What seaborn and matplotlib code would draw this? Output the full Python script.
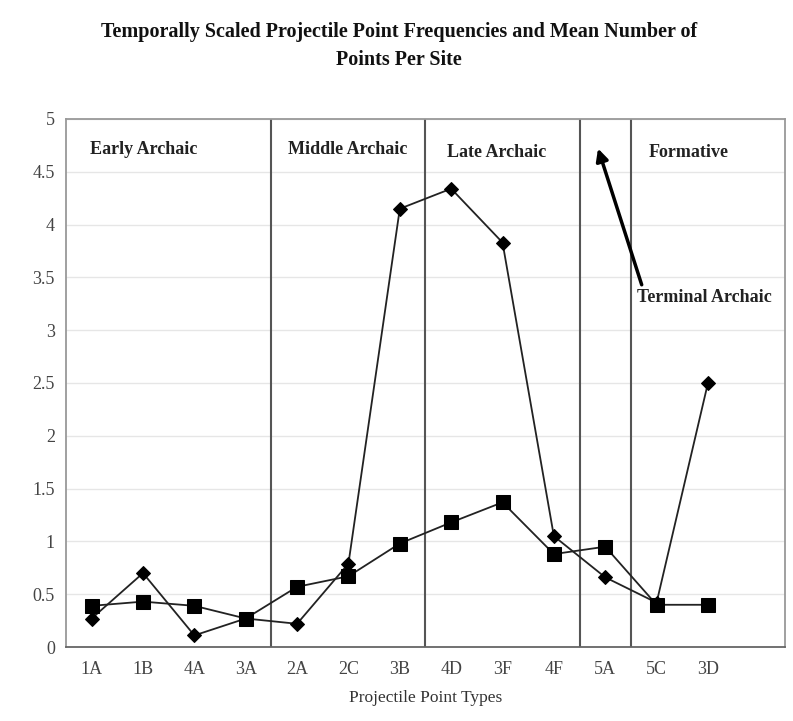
import numpy as np
import pandas as pd
import matplotlib
matplotlib.use("Agg")
import matplotlib.pyplot as plt
from matplotlib.ticker import FormatStrFormatter
import seaborn as sns

# point types along the x axis (last slot is empty in the original)
point_types = ["1A", "1B", "4A", "3A", "2A", "2C", "3B", "4D", "3F", "4F", "5A", "5C", "3D", ""]

# diamond series: scaled point frequencies
scaled_freq = [0.27, 0.70, 0.11, 0.27, 0.22, 0.79, 4.15, 4.34, 3.83, 1.05, 0.66, 0.42, 2.50]
# square series: mean number of points per site
mean_per_site = [0.39, 0.43, 0.39, 0.27, 0.57, 0.67, 0.98, 1.18, 1.37, 0.88, 0.95, 0.40, 0.40]

# period boundaries (between categories) and labels
period_bounds = [3.5, 6.5, 9.5, 10.5]
period_labels = ["Early Archaic", "Middle Archaic", "Late Archaic", "Formative"]
period_label_x = [-0.03, 3.82, 6.92, 10.85]
period_label_y = [4.71, 4.71, 4.68, 4.68]

SERIF = ["Liberation Serif", "DejaVu Serif"]

sns.set_style("white")
plt.rcParams["font.family"] = SERIF

df = pd.DataFrame({
    "pos": np.arange(len(scaled_freq)),
    "freq": scaled_freq,
    "mean": mean_per_site,
})

fig = plt.figure(figsize=(7.93, 7.21), dpi=100)
ax = fig.add_axes([0.0832, 0.1026, 0.9067, 0.7324])

ax.yaxis.grid(True, color="#e6e6e6", linewidth=1.0)
ax.set_axisbelow(True)

sns.lineplot(data=df, x="pos", y="freq", ax=ax, color="#222222", linewidth=1.3,
             marker="D", markersize=7.5, markerfacecolor="black",
             markeredgecolor="black", zorder=3)
sns.lineplot(data=df, x="pos", y="mean", ax=ax, color="#222222", linewidth=1.3,
             marker="s", markersize=10.5, markerfacecolor="black",
             markeredgecolor="black", zorder=4)

for b in period_bounds:
    ax.axvline(b, color="#555555", linewidth=1.5, zorder=2)

for lab, lx, ly in zip(period_labels, period_label_x, period_label_y):
    ax.text(lx, ly, lab, fontsize=13, fontweight="bold", color="#222222",
            ha="left", va="center")

# terminal archaic arrow and its label
ax.annotate("", xy=(9.86, 4.72), xytext=(10.71, 3.43),
            arrowprops=dict(arrowstyle="-|>", color="black", lw=2.5,
                            mutation_scale=18, shrinkA=0, shrinkB=0),
            annotation_clip=False)
ax.text(10.62, 3.31, "Terminal Archaic", fontsize=13, fontweight="bold",
        color="#222222", ha="left", va="center", clip_on=False)

ax.set_xlim(-0.5, len(point_types) - 0.5)
ax.set_ylim(0, 5)
ax.set_xticks(np.arange(len(point_types)))
ax.set_xticklabels(point_types)
ax.set_yticks(np.arange(0, 5.01, 0.5))
ax.yaxis.set_major_formatter(FormatStrFormatter("%g"))
ax.tick_params(axis="both", labelsize=13, labelcolor="#444444", length=0, pad=10)
ax.tick_params(axis="y", pad=8)

ax.set_xlabel("Projectile Point Types", fontsize=12.5, color="#333333", labelpad=9)
ax.set_ylabel("")

for side, sp in ax.spines.items():
    sp.set_visible(True)
    sp.set_color("#999999")
    sp.set_linewidth(1.3)
ax.spines["bottom"].set_color("#666666")

fig.suptitle("Temporally Scaled Projectile Point Frequencies and Mean Number of\nPoints Per Site",
             x=0.503, y=0.97, fontsize=14.5, fontweight="bold", color="#111111",
             linespacing=1.55)

fig.savefig("out.png", dpi=100)
